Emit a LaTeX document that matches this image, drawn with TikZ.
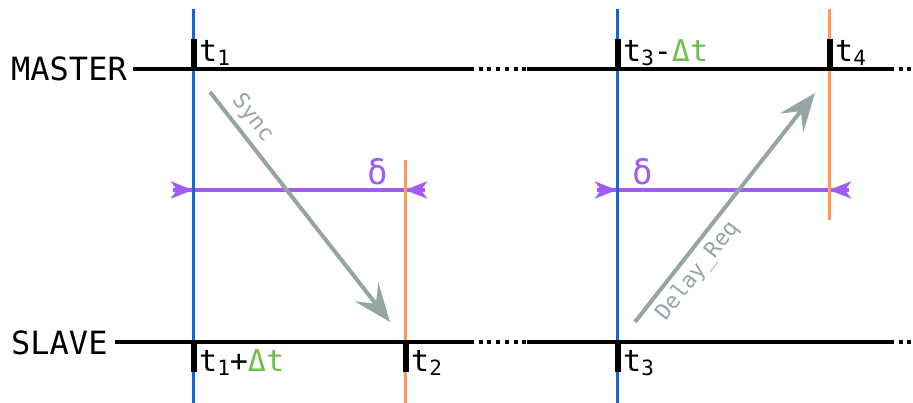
\documentclass[tikz,border=0pt]{standalone}
\usepackage{fontspec}
\setmainfont{DejaVu Sans Mono}
\usetikzlibrary{arrows.meta}
\definecolor{cblue}{RGB}{21,101,216}
\definecolor{corange}{RGB}{255,153,85}
\definecolor{cgreen}{RGB}{108,192,74}
\definecolor{cgray}{RGB}{149,165,166}
\definecolor{cpurple}{RGB}{160,92,245}
\newcommand\subx[1]{\raisebox{-4pt}{\fontsize{21}{21}\selectfont #1}}
\newcommand\dlt{\textcolor{cgreen}{Δt}}
\begin{document}
\begin{tikzpicture}[x=1pt,y=-1pt,
  timeline/.style={line width=4pt, black},
  dotline/.style={line width=4pt, black, dash pattern=on 4pt off 4.7pt},
  tickmark/.style={line width=6pt, black},
  blueline/.style={line width=3pt, cblue},
  orangeline/.style={line width=3pt, corange},
  msg/.style={line width=4pt, cgray, -{Stealth[length=38pt,width=30pt,inset=15pt]}},
  msglabel/.style={font=\fontsize{22}{24}\selectfont, text=cgray, sloped, inner sep=5pt},
  dimline/.style={line width=3.5pt, cpurple},
  dimarrow/.style={line width=3.5pt, cpurple, -{Stealth[length=22pt,width=17pt,inset=6pt]}},
  tlabel/.style={anchor=base west, inner sep=0pt, font=\fontsize{30}{32}\selectfont},
  dlabel/.style={anchor=base west, inner sep=0pt, font=\fontsize{34}{36}\selectfont, text=cpurple},
  rolelabel/.style={anchor=base west, inner sep=0pt, font=\fontsize{32}{34}\selectfont}
]
\useasboundingbox (0,0) rectangle (913,403);

% coordinates
\coordinate (b1t) at (193,9);   \coordinate (b1b) at (193,403);
\coordinate (b2t) at (617,9);   \coordinate (b2b) at (617,403);
\coordinate (o1t) at (405,160); \coordinate (o1b) at (405,403);
\coordinate (o2t) at (829,9);   \coordinate (o2b) at (829,220);

% purple dimension arrows
\coordinate (d1l) at (173,190); \coordinate (d1r) at (425,190);
\coordinate (d2l) at (597,190); \coordinate (d2r) at (849,190);
\draw[dimline] (d1l) -- (d1r);
\draw[dimline] (d2l) -- (d2r);
\coordinate (a1) at (193,190); \coordinate (a2) at (405,190);
\coordinate (a3) at (617,190); \coordinate (a4) at (829,190);
\draw[dimarrow] (d1l) -- (a1);
\draw[dimarrow] (d1r) -- (a2);
\draw[dimarrow] (d2l) -- (a3);
\draw[dimarrow] (d2r) -- (a4);

% vertical lines
\draw[blueline] (b1t) -- (b1b);
\draw[blueline] (b2t) -- (b2b);
\draw[orangeline] (o1t) -- (o1b);
\draw[orangeline] (o2t) -- (o2b);

% role labels
\node[rolelabel] (master) at (11,81) {MASTER};
\node[rolelabel] (slave) at (11,354) {SLAVE};

% timelines
\coordinate (m0) at (133,69); \coordinate (m1) at (470,69);
\coordinate (m2) at (527,69); \coordinate (m3) at (890,69); \coordinate (m4) at (913,69);
\coordinate (s0) at (115,342); \coordinate (s1) at (470,342);
\coordinate (s2) at (527,342); \coordinate (s3) at (890,342); \coordinate (s4) at (913,342);
\draw[timeline] (m0) -- (m1);
\draw[dotline] (m1) -- (m2);
\draw[timeline] (m2) -- (m3);
\draw[dotline] (m3) -- (m4);
\draw[timeline] (s0) -- (s1);
\draw[dotline] (s1) -- (s2);
\draw[timeline] (s2) -- (s3);
\draw[dotline] (s3) -- (s4);

% tick marks
\draw[tickmark] (193.5,39) -- (193.5,69);
\draw[tickmark] (617.5,39) -- (617.5,69);
\draw[tickmark] (829.5,39) -- (829.5,69);
\draw[tickmark] (193.5,342) -- (193.5,372);
\draw[tickmark] (405.5,342) -- (405.5,372);
\draw[tickmark] (617.5,342) -- (617.5,372);

% time labels
\node[tlabel] (lt1) at (199,62) {t\subx{1}};
\node[tlabel] (lt3m) at (623,62) {t\subx{3}-\dlt};
\node[tlabel] (lt4) at (835,62) {t\subx{4}};
\node[tlabel] (lt1s) at (199,371) {t\subx{1}+\dlt};
\node[tlabel] (lt2) at (411,371) {t\subx{2}};
\node[tlabel] (lt3) at (623,371) {t\subx{3}};

% delta labels
\node[dlabel] (del1) at (367,185) {δ};
\node[dlabel] (del2) at (632,185) {δ};

% messages
\coordinate (syncA) at (210,92); \coordinate (syncB) at (390,322);
\coordinate (dreqA) at (635,322); \coordinate (dreqB) at (815,93);
\draw[msg] (syncA) -- node[msglabel, above, pos=0.16] (synclab) {Sync} (syncB);
\draw[msg] (dreqA) -- node[msglabel, below, pos=0.27] (dreqlab) {Delay\_Req} (dreqB);
\end{tikzpicture}
\end{document}
